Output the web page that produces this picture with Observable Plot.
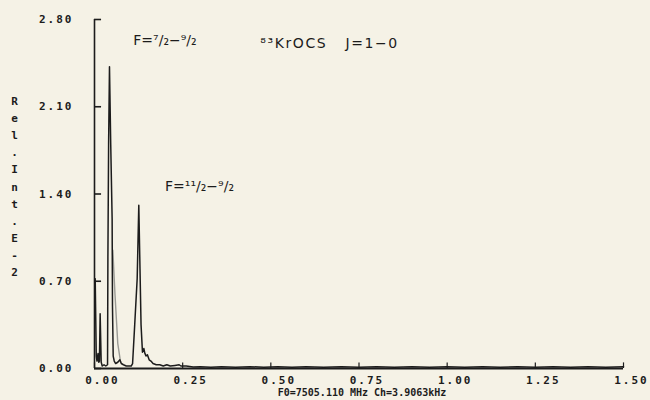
<!DOCTYPE html>
<html>
<head>
<meta charset="utf-8">
<script src="https://cdn.jsdelivr.net/npm/d3@7"></script>
<script src="https://cdn.jsdelivr.net/npm/@observablehq/plot@0.6"></script>
<style>
  html, body { margin: 0; padding: 0; background: #f5f2e6; }
  #chart svg { display: block; }
</style>
</head>
<body>
<div id="chart"></div>
<script>
// Main spectrum trace (frequency offset in MHz, relative intensity E-2)
const specX = [0.002, 0.005, 0.007, 0.010, 0.012, 0.014, 0.016, 0.019, 0.022, 0.027, 0.032, 0.037,
  0.038, 0.040, 0.0425, 0.046, 0.050, 0.051, 0.053, 0.056, 0.060, 0.066, 0.072, 0.076, 0.082, 0.090,
  0.098, 0.104, 0.108, 0.114, 0.121, 0.1256, 0.129, 0.132, 0.136, 0.140, 0.143, 0.146, 0.150, 0.155,
  0.160, 0.166, 0.175, 0.185, 0.195, 0.205, 0.215, 0.228, 0.240, 0.245, 0.260, 0.280, 0.300, 0.330,
  0.360, 0.400, 0.440, 0.480, 0.520, 0.560, 0.600, 0.650, 0.700, 0.750, 0.800, 0.850, 0.900, 0.950,
  1.000, 1.050, 1.100, 1.150, 1.200, 1.250, 1.300, 1.350, 1.400, 1.450, 1.500];
const specY = [0.72, 0.10, 0.06, 0.12, 0.05, 0.06, 0.44, 0.05, 0.02, 0.03, 0.02, 0.03,
  0.90, 1.80, 2.42, 1.80, 1.20, 0.50, 0.10, 0.06, 0.04, 0.05, 0.07, 0.04, 0.03, 0.02,
  0.02, 0.02, 0.04, 0.35, 0.72, 1.31, 0.80, 0.35, 0.13, 0.16, 0.12, 0.10, 0.11, 0.07,
  0.06, 0.04, 0.03, 0.03, 0.02, 0.03, 0.02, 0.025, 0.03, 0.02, 0.02, 0.012, 0.015, 0.01,
  0.015, 0.01, 0.015, 0.01, 0.015, 0.01, 0.015, 0.01, 0.015, 0.01, 0.015, 0.01, 0.015, 0.01,
  0.015, 0.01, 0.015, 0.01, 0.015, 0.01, 0.015, 0.01, 0.015, 0.01, 0.015];

// Faint secondary trace on the right flank of the main peak
const ghostX = [0.052, 0.058, 0.066, 0.074];
const ghostY = [0.95, 0.60, 0.20, 0.05];

const xTicks = [0, 0.25, 0.50, 0.75, 1.00, 1.25, 1.50];
const xTickLabels = ["0.00", "0.25", "0.50", "0.75", "1.00", "1.25", "1.50"];
const yTicks = [0, 0.70, 1.40, 2.10, 2.80];
const yTickLabels = ["0.00", "0.70", "1.40", "2.10", "2.80"];

const annoText = ["F=⁷/₂−⁹/₂", "⁸³KrOCS   J=1−0", "F=¹¹/₂−⁹/₂"];
const annoX = [0.11, 0.47, 0.20];
const annoY = [2.63, 2.61, 1.46];

const yLabel = "Rel.Int.E-2";
const caption = "F0=7505.110 MHz Ch=3.9063kHz";

const spec = specX.map((x, i) => ({x, y: specY[i]}));
const ghost = ghostX.map((x, i) => ({x, y: ghostY[i]}));
const xt = xTicks.map((v, i) => ({v, label: xTickLabels[i]}));
const yt = yTicks.map((v, i) => ({v, label: yTickLabels[i]}));
const anno = annoText.map((t, i) => ({t, x: annoX[i], y: annoY[i]}));

const ink = "#1c1c1c";
const mono = "'DejaVu Sans Mono', monospace";

const chart = Plot.plot({
  width: 650,
  height: 400,
  marginLeft: 94,
  marginRight: 27,
  marginTop: 19,
  marginBottom: 32,
  x: {type: "linear", domain: [0, 1.5], axis: null},
  y: {type: "linear", domain: [0, 2.8], axis: null},
  style: {background: "#f5f2e6", color: ink, overflow: "visible"},
  marks: [
    // axes lines
    Plot.ruleX([0], {y1: 0, y2: 2.8, stroke: ink, strokeWidth: 1.6}),
    Plot.ruleY([0], {x1: 0, x2: 1.5, stroke: ink, strokeWidth: 1.8}),
    // ticks (y pointing right, x pointing up)
    Plot.ruleY(yt, {y: "v", x1: 0, x2: 0.02, stroke: ink, strokeWidth: 1.6}),
    Plot.ruleX(xt, {x: "v", y1: 0, y2: 0.045, stroke: ink, strokeWidth: 1.2}),
    // spectrum traces
    Plot.line(ghost, {x: "x", y: "y", stroke: "#9a9a94", strokeWidth: 1.4}),
    Plot.line(spec, {x: "x", y: "y", stroke: ink, strokeWidth: 1.5, curve: "linear"}),
    // tick labels
    Plot.text(yt, {x: 0, y: "v", text: "label", dx: -21, textAnchor: "end",
      fontFamily: mono, fontWeight: "bold", fontSize: 11, fill: ink}),
    Plot.text(xt, {x: "v", y: 0, text: "label", dy: 12, dx: 8,
      fontFamily: mono, fontWeight: "bold", fontSize: 11, fill: ink}),
    // caption under x axis
    Plot.text([caption], {x: 0.75, y: 0, dy: 24, dx: 3, text: d => d,
      fontFamily: mono, fontWeight: "bold", fontSize: 10, fill: ink}),
    // vertical y label
    Plot.text([yLabel], {frameAnchor: "left", dx: -80, dy: -9,
      text: d => d.split("").join("\n"), lineHeight: 1.56, textAnchor: "middle",
      fontFamily: mono, fontWeight: "bold", fontSize: 11, fill: ink}),
    // annotations
    Plot.text(anno, {x: "x", y: "y", text: "t", textAnchor: "start",
      fontFamily: "'DejaVu Sans', sans-serif", fontSize: 14, fill: ink})
  ]
});
document.getElementById("chart").appendChild(chart);

// letter-spacing to mimic the wide plotter lettering
const tickSet = new Set([...xTickLabels, ...yTickLabels]);
d3.select(chart).selectAll("text").each(function () {
  const t = this.textContent;
  if (tickSet.has(t)) this.style.letterSpacing = "2px";
  else if (t === annoText[1]) this.style.letterSpacing = "1.6px";
});
</script>
</body>
</html>
